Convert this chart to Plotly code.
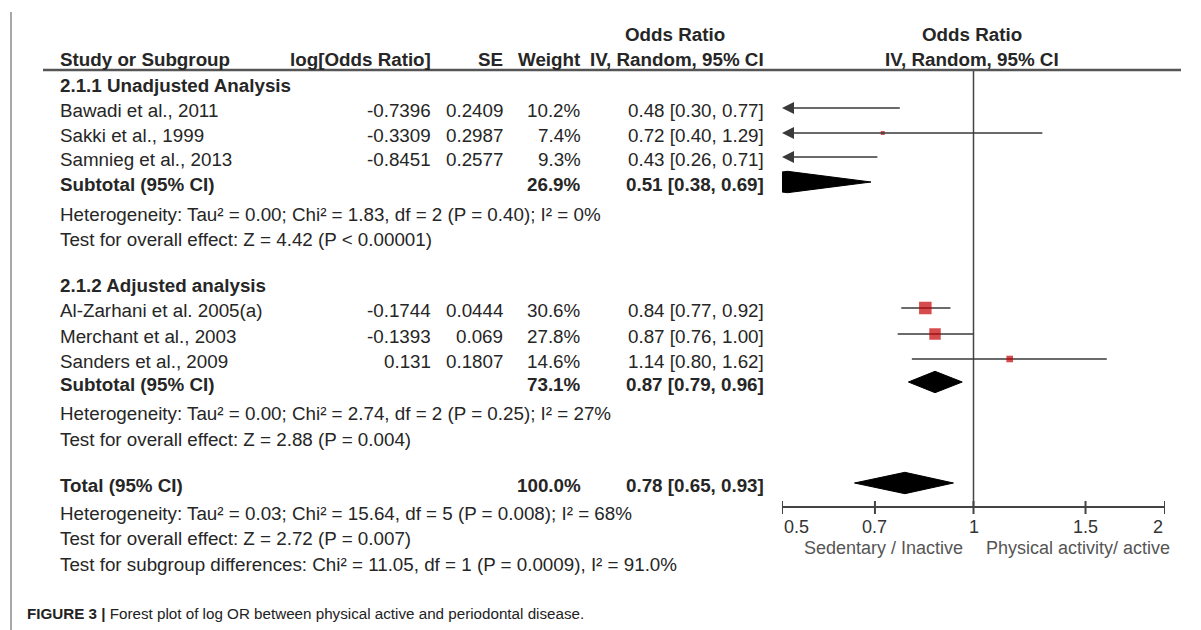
import numpy as np
import plotly.graph_objects as go

# ---------------- data ----------------
studies = ["Bawadi et al., 2011", "Sakki et al., 1999", "Samnieg et al., 2013",
           "Al-Zarhani et al. 2005(a)", "Merchant et al., 2003", "Sanders et al., 2009"]
log_or = [-0.7396, -0.3309, -0.8451, -0.1744, -0.1393, 0.131]
se = [0.2409, 0.2987, 0.2577, 0.0444, 0.069, 0.1807]
weight = [10.2, 7.4, 9.3, 30.6, 27.8, 14.6]
or_est = [0.48, 0.72, 0.43, 0.84, 0.87, 1.14]
or_lo = [0.30, 0.40, 0.26, 0.77, 0.76, 0.80]
or_hi = [0.77, 1.29, 0.71, 0.92, 1.00, 1.62]

group_titles = ["2.1.1 Unadjusted Analysis", "2.1.2 Adjusted analysis"]
sub_weight = [26.9, 73.1]
sub_est = [0.51, 0.87]
sub_lo = [0.38, 0.79]
sub_hi = [0.69, 0.96]
sub_het = ["Heterogeneity: Tau² = 0.00; Chi² = 1.83, df = 2 (P = 0.40); I² = 0%",
           "Heterogeneity: Tau² = 0.00; Chi² = 2.74, df = 2 (P = 0.25); I² = 27%"]
sub_test = ["Test for overall effect: Z = 4.42 (P < 0.00001)",
            "Test for overall effect: Z = 2.88 (P = 0.004)"]

total_weight = 100.0
total_est = 0.78
total_lo = 0.65
total_hi = 0.93
total_notes = ["Heterogeneity: Tau² = 0.03; Chi² = 15.64, df = 5 (P = 0.008); I² = 68%",
               "Test for overall effect: Z = 2.72 (P = 0.007)",
               "Test for subgroup differences: Chi² = 11.05, df = 1 (P = 0.0009), I² = 91.0%"]

tick_vals = [0.5, 0.7, 1, 1.5, 2]
tick_text = ["0.5", "0.7", "1", "1.5", "2"]
favours = ["Sedentary / Inactive", "Physical activity/ active"]
caption_bold = "FIGURE 3 |"
caption_text = " Forest plot of log OR between physical active and periodontal disease."

# ---------------- layout constants (pixels) ----------------
W, H = 1201, 630
XMIN, XMAX = 0.5, 2.0
study_y = [108, 133, 157, 308, 334, 359]
group_y = [83, 283]
sub_y = [182, 382]
het_y = [212, 411]
test_y = [237, 437]
total_y = 483
total_notes_y = [511, 536, 562]
axis_y = 507
header_line_y = 70
DH = 10.7  # diamond half height

TXT = "#262626"
FONT = "Liberation Sans, Arial, sans-serif"
FS = 18.8


def px(x):
    return x / W


annotations = []


def txt(x, y, s, anchor="left", bold=False, size=FS, color=TXT, dy=2):
    annotations.append(dict(
        x=px(x), y=y + dy, xref="paper", yref="y", text=f"<b>{s}</b>" if bold else s,
        showarrow=False, xanchor=anchor, yanchor="middle",
        font=dict(family=FONT, size=size, color=color)))


# header
txt(58, 57, "Study or Subgroup", bold=True)
txt(433, 57, "log[Odds Ratio]", anchor="right", bold=True)
txt(505, 57, "SE", anchor="right", bold=True)
txt(583, 57, "Weight", anchor="right", bold=True)
txt(675, 32, "Odds Ratio", anchor="center", bold=True)
txt(766, 57, "IV, Random, 95% CI", anchor="right", bold=True)
txt(972, 32, "Odds Ratio", anchor="center", bold=True)
txt(972, 57, "IV, Random, 95% CI", anchor="center", bold=True)

# study rows
for i, name in enumerate(studies):
    y = study_y[i]
    txt(58, y, name)
    txt(433, y, str(log_or[i]), anchor="right")
    txt(505, y, str(se[i]), anchor="right")
    txt(583, y, f"{weight[i]:.1f}%", anchor="right")
    txt(766, y, f"{or_est[i]:.2f} [{or_lo[i]:.2f}, {or_hi[i]:.2f}]", anchor="right")

for g in range(2):
    txt(58, group_y[g], group_titles[g], bold=True)
    txt(58, sub_y[g], "Subtotal (95% CI)", bold=True)
    txt(583, sub_y[g], f"{sub_weight[g]:.1f}%", anchor="right", bold=True)
    txt(766, sub_y[g], f"{sub_est[g]:.2f} [{sub_lo[g]:.2f}, {sub_hi[g]:.2f}]", anchor="right", bold=True)
    txt(58, het_y[g], sub_het[g])
    txt(58, test_y[g], sub_test[g])

txt(58, total_y, "Total (95% CI)", bold=True)
txt(583, total_y, f"{total_weight:.1f}%", anchor="right", bold=True)
txt(766, total_y, f"{total_est:.2f} [{total_lo:.2f}, {total_hi:.2f}]", anchor="right", bold=True)
for s, y in zip(total_notes, total_notes_y):
    txt(58, y, s)

# caption
annotations.append(dict(
    x=px(25), y=613, xref="paper", yref="y", showarrow=False, xanchor="left", yanchor="middle",
    text=f"<b>{caption_bold}</b>{caption_text}",
    font=dict(family=FONT, size=15.2, color="#222222")))

# axis tick labels & favours labels
for v, t in zip(tick_vals, tick_text):
    anc = "left" if v == tick_vals[0] else ("right" if v == tick_vals[-1] else "center")
    annotations.append(dict(
        x=np.log10(v), y=527, xref="x", yref="y", text=t, showarrow=False,
        xanchor=anc, yanchor="middle", font=dict(family=FONT, size=18, color="#333333")))
annotations.append(dict(x=np.log10(1), y=548, xref="x", yref="y", text=favours[0],
                        showarrow=False, xanchor="right", xshift=-9, yanchor="middle",
                        font=dict(family=FONT, size=18, color="#555555")))
annotations.append(dict(x=np.log10(1), y=548, xref="x", yref="y", text=favours[1],
                        showarrow=False, xanchor="left", xshift=10, yanchor="middle",
                        font=dict(family=FONT, size=18, color="#555555")))

fig = go.Figure()
LINE = "#3a3a3a"

# line of no effect
fig.add_trace(go.Scatter(x=[1, 1], y=[header_line_y, axis_y], mode="lines",
                         line=dict(color="#444444", width=1.5), hoverinfo="skip"))
# x axis line + ticks
fig.add_trace(go.Scatter(x=[XMIN, XMAX], y=[axis_y, axis_y], mode="lines",
                         line=dict(color="#444444", width=2), hoverinfo="skip",
                         cliponaxis=False))
tx, ty = [], []
for v in tick_vals:
    tx += [v, v, None]
    ty += [axis_y - 6, axis_y + 7, None]
fig.add_trace(go.Scatter(x=tx, y=ty, mode="lines", line=dict(color="#444444", width=2),
                         hoverinfo="skip", cliponaxis=False))

# study CIs
for i in range(len(studies)):
    y = study_y[i]
    lo = max(or_lo[i], XMIN)
    hi = min(or_hi[i], XMAX)
    if or_lo[i] < XMIN:
        annotations.append(dict(x=np.log10(XMIN), y=y, ax=np.log10(hi), ay=y,
                                xref="x", yref="y", axref="x", ayref="y", text="",
                                showarrow=True, arrowhead=2, arrowsize=1.6, arrowwidth=1.5,
                                arrowcolor=LINE, standoff=0, startstandoff=0))
    else:
        fig.add_trace(go.Scatter(x=[lo, hi], y=[y, y], mode="lines",
                                 line=dict(color=LINE, width=1.5), hoverinfo="skip"))

# squares (only those inside the axis range)
sx = [or_est[i] for i in range(len(studies)) if or_est[i] >= XMIN]
sy = [study_y[i] for i in range(len(studies)) if or_est[i] >= XMIN]
ss = [0.37 * weight[i] + 1.2 for i in range(len(studies)) if or_est[i] >= XMIN]
fig.add_trace(go.Scatter(x=sx, y=sy, mode="markers",
                         marker=dict(symbol="square", size=ss, color="#c40000",
                                     line=dict(width=0)),
                         cliponaxis=False, hoverinfo="skip"))


def diamond(est, lo, hi, y):
    le, ll, lmin = np.log(est), np.log(lo), np.log(XMIN)
    if lo < XMIN:
        f = (lmin - ll) / (le - ll)
        xs = [XMIN, est, hi, est, XMIN, XMIN]
        ys = [y - DH * f, y - DH, y, y + DH, y + DH * f, y - DH * f]
    else:
        xs = [lo, est, hi, est, lo]
        ys = [y, y - DH, y, y + DH, y]
    return xs, ys


for g in range(2):
    xs, ys = diamond(sub_est[g], sub_lo[g], sub_hi[g], sub_y[g])
    fig.add_trace(go.Scatter(x=xs, y=ys, mode="lines", fill="toself", fillcolor="#000000",
                             line=dict(color="#000000", width=1), hoverinfo="skip",
                             cliponaxis=False))
xs, ys = diamond(total_est, total_lo, total_hi, total_y)
fig.add_trace(go.Scatter(x=xs, y=ys, mode="lines", fill="toself", fillcolor="#000000",
                         line=dict(color="#000000", width=1), hoverinfo="skip",
                         cliponaxis=False))

shapes = [
    dict(type="line", xref="paper", yref="y", x0=px(43), x1=px(1181),
         y0=header_line_y, y1=header_line_y, line=dict(color="#555555", width=2.5)),
    dict(type="line", xref="paper", yref="y", x0=px(11), x1=px(11), y0=12, y1=H,
         line=dict(color="#8a8a8a", width=1.5)),
]

fig.update_layout(
    width=W, height=H, margin=dict(l=0, r=0, t=0, b=0),
    paper_bgcolor="white", plot_bgcolor="white", showlegend=False,
    xaxis=dict(type="log", range=[np.log10(XMIN), np.log10(XMAX)],
               domain=[px(782), px(1165)], visible=False, fixedrange=True),
    yaxis=dict(range=[H, 0], domain=[0, 1], visible=False, fixedrange=True),
    annotations=annotations, shapes=shapes,
)

fig.write_html("out.html", config={"displayModeBar": False},
               post_script="document.body.style.margin='0';")
